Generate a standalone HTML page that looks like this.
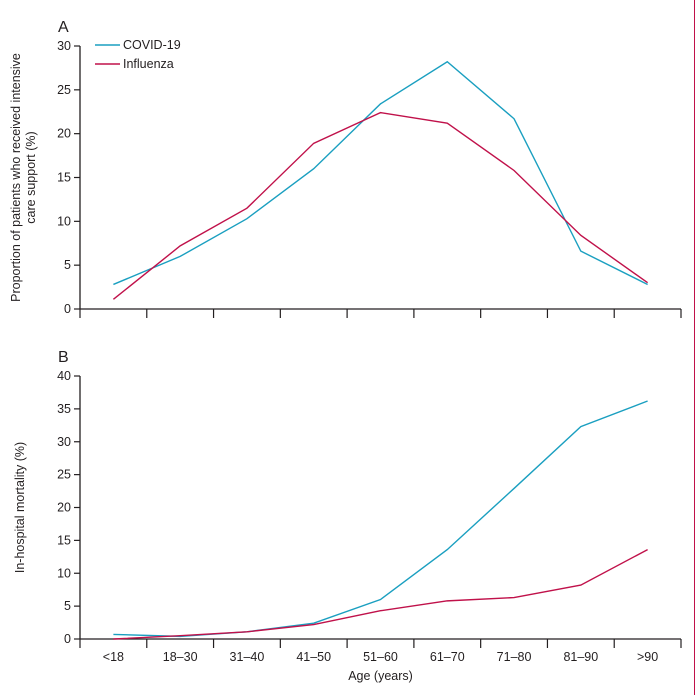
<!DOCTYPE html>
<html><head><meta charset="utf-8"><style>
body{margin:0;background:#fff;}
svg{display:block;font-family:"Liberation Sans",sans-serif;}
text{fill:#231f20;font-size:12.5px;}
</style></head><body>
<svg id="chart" width="699" height="695" xmlns="http://www.w3.org/2000/svg">
<line x1="694.5" y1="0" x2="694.5" y2="695" stroke="#c0114a" stroke-width="1"/>
<g id="g"></g>
</svg>
<script>
const categories=["<18","18–30","31–40","41–50","51–60","61–70","71–80","81–90",">90"];
const icuCovid=[2.8,6.0,10.3,16.0,23.4,28.2,21.7,6.6,2.8];
const icuFlu=[1.1,7.2,11.5,18.9,22.4,21.2,15.8,8.4,3.0];
const mortCovid=[0.7,0.4,1.1,2.4,6.0,13.6,22.9,32.3,36.2];
const mortFlu=[0.0,0.5,1.1,2.2,4.3,5.8,6.3,8.2,13.6];
const ticksA=[0,5,10,15,20,25,30];
const ticksB=[0,5,10,15,20,25,30,35,40];
const NS="http://www.w3.org/2000/svg";
const g=document.getElementById('g');
function el(t,a,p){const e=document.createElementNS(NS,t);for(const k in a)e.setAttribute(k,a[k]);(p||g).appendChild(e);return e;}
const x0=80,x1=681;
const band=(x1-x0)/categories.length;
const xc=i=>x0+band*(i+0.5);
function panel(letter,top,bottom,ymax,ticks,cov,flu,label,nameP){
  const y=v=>bottom-(v/ymax)*(bottom-top);
  const grp=el('g',{});
  
  
  const L=el('text',{x:x0-22,y:top-14,'font-size':'16'},grp);L.textContent=letter;
  
  L.style.fontSize='16px';
  el('line',{x1:x0,y1:top,x2:x0,y2:bottom,stroke:'#231f20','stroke-width':1.3},grp);
  el('line',{x1:x0,y1:bottom,x2:x1,y2:bottom,stroke:'#231f20','stroke-width':1.3},grp);
  ticks.forEach(t=>{
    el('line',{x1:x0-6,y1:y(t),x2:x0,y2:y(t),stroke:'#231f20','stroke-width':1.2},grp);
    const tx=el('text',{x:x0-9,y:y(t)+4,'text-anchor':'end'},grp);tx.textContent=t;
    
  });
  for(let i=0;i<=categories.length;i++){
    const xx=x0+band*i;
    el('line',{x1:xx,y1:bottom,x2:xx,y2:bottom+9,stroke:'#231f20','stroke-width':1.2},grp);
  }
  const yl=el('text',{transform:`translate(${nameP==='icu'?24:24},${(top+bottom)/2}) rotate(-90)`,'text-anchor':'middle'},grp);
  
  label.forEach((s,k)=>{const ts=el('tspan',{x:0,dy:k?15:(label.length>1?-4:0)},yl);ts.textContent=s;});
  const line=(arr,col,n)=>{
    const p=el('polyline',{points:arr.map((v,i)=>xc(i)+','+y(v)).join(' '),fill:'none',stroke:col,'stroke-width':1.4},grp);
    
  };
  line(cov,'#1a9fc0',nameP+'-covid-line');
  line(flu,'#c0114a',nameP+'-influenza-line');
}
panel('A',46,309,30,ticksA,icuCovid,icuFlu,['Proportion of patients who received intensive','care support (%)'],'icu');
panel('B',376,639,40,ticksB,mortCovid,mortFlu,['In-hospital mortality (%)'],'mortality');
categories.forEach((c,i)=>{
  const t=el('text',{x:xc(i),y:661,'text-anchor':'middle'});t.textContent=c;
  
});
const xt=el('text',{x:(x0+x1)/2,y:680,'text-anchor':'middle'});xt.textContent='Age (years)';

[['COVID-19','#1a9fc0',45],['Influenza','#c0114a',64]].forEach(([n,c,yy])=>{
  const lg=el('g',{});
  
  el('line',{x1:95,y1:yy,x2:120,y2:yy,stroke:c,'stroke-width':1.4},lg);
  const t=el('text',{x:123,y:yy+4},lg);t.textContent=n;
});
</script>
</body></html>
